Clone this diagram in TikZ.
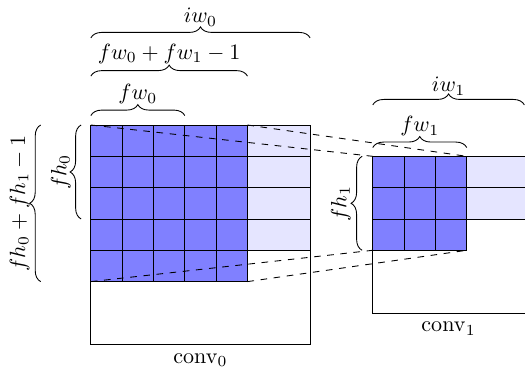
\documentclass[tikz,border=0pt]{standalone}
\usetikzlibrary{decorations.pathreplacing}
\begin{document}
\begin{tikzpicture}[
  cellA/.style={draw=black, fill=blue!50},
  cellB/.style={draw=black, fill=blue!10},
  frame/.style={draw=black},
  brc/.style={decorate, decoration={brace, amplitude=5pt}},
  lbl/.style={anchor=base, inner sep=0pt},
  vlbl/.style={anchor=base, inner sep=0pt, rotate=90},
  conn/.style={dashed}
]
\useasboundingbox (-1.45,-0.44) rectangle (6.93,5.495);
\clip (-1.45,-0.44) rectangle (6.93,5.495);
% conv0
\draw[frame] (0,0) rectangle (3.5,3.5);
\foreach \j in {3,...,6} \draw[cellB] (2.5,\j*0.5) rectangle (3.5,\j*0.5+0.5);
\foreach \i in {0,...,4} \foreach \j in {2,...,6} \draw[cellA] (\i*0.5,\j*0.5) rectangle ++(0.5,0.5);
% conv1
\draw[frame] (4.5,0.5) rectangle (7,3);
\foreach \j in {4,5} \draw[cellB] (6,\j*0.5) rectangle (7,\j*0.5+0.5);
\foreach \i in {9,...,11} \foreach \j in {3,...,5} \draw[cellA] (\i*0.5,\j*0.5) rectangle ++(0.5,0.5);
% corners
\coordinate (a1) at (0,3.5);
\coordinate (a2) at (2.5,3.5);
\coordinate (a3) at (0,1);
\coordinate (a4) at (2.5,1);
\coordinate (b1) at (4.5,3);
\coordinate (b2) at (6,3);
\coordinate (b3) at (4.5,1.5);
\coordinate (b4) at (6,1.5);
\draw[conn] (a1) -- (b1);
\draw[conn] (a2) -- (b2);
\draw[conn] (a3) -- (b3);
\draw[conn] (a4) -- (b4);
% braces conv0
\draw[brc] (0,3.65) -- (1.5,3.65);
\draw[brc] (0,4.28) -- (2.5,4.28);
\draw[brc] (0,4.89) -- (3.5,4.89);
\draw[brc] (-0.155,2) -- (-0.155,3.5);
\draw[brc] (-0.80,1) -- (-0.80,3.5);
% braces conv1
\draw[brc] (4.5,3.14) -- (6,3.14);
\draw[brc] (4.5,3.82) -- (6.92,3.82);
\draw[brc] (4.33,1.5) -- (4.33,3);
% labels
\node[lbl] (liw0) at (1.75,5.13) {$iw_0$};
\node[lbl] (lsum) at (1.25,4.55) {$fw_0+fw_1-1$};
\node[lbl] (lfw0) at (0.75,3.90) {$fw_0$};
\node[lbl] (liw1) at (5.71,4.03) {$iw_1$};
\node[lbl] (lfw1) at (5.25,3.39) {$fw_1$};
\node[vlbl] (lfh0) at (-0.39,2.75) {$fh_0$};
\node[vlbl] (lfhs) at (-1.05,2.25) {$fh_0+fh_1-1$};
\node[vlbl] (lfh1) at (4.08,2.25) {$fh_1$};
\node[lbl] (lc0) at (1.75,-0.30) {$\mathrm{conv}_0$};
\node[lbl] (lc1) at (5.71,0.20) {$\mathrm{conv}_1$};
\end{tikzpicture}
\end{document}
